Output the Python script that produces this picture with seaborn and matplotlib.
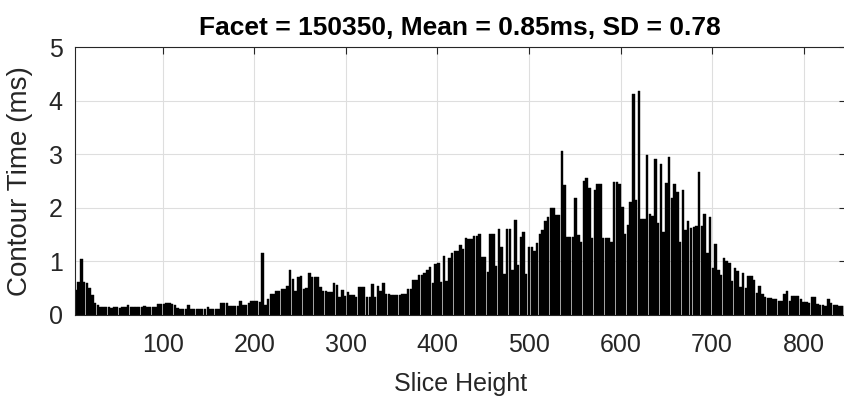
import numpy as np
import pandas as pd
import matplotlib
matplotlib.use("Agg")
import matplotlib.pyplot as plt
import seaborn as sns

# contour time per slice (ms), read every 3rd slice from 5 to 845
slice_height = np.arange(5, 846, 3)
contour_time = [
    0.47, 0.62, 1.04, 0.62, 0.59, 0.50, 0.38, 0.23, 0.19, 0.14,
    0.14, 0.14, 0.14, 0.13, 0.14, 0.14, 0.13, 0.14, 0.15, 0.18,
    0.15, 0.15, 0.15, 0.14, 0.14, 0.17, 0.14, 0.14, 0.14, 0.14,
    0.20, 0.20, 0.20, 0.22, 0.22, 0.20, 0.19, 0.13, 0.12, 0.12,
    0.12, 0.19, 0.12, 0.12, 0.12, 0.12, 0.12, 0.12, 0.15, 0.12,
    0.12, 0.12, 0.12, 0.22, 0.22, 0.22, 0.17, 0.17, 0.17, 0.17,
    0.27, 0.19, 0.19, 0.23, 0.27, 0.27, 0.27, 0.25, 1.16, 0.19,
    0.29, 0.39, 0.39, 0.45, 0.45, 0.49, 0.49, 0.54, 0.84, 0.68,
    0.44, 0.70, 0.73, 0.49, 0.51, 0.79, 0.71, 0.71, 0.70, 0.53,
    0.45, 0.45, 0.43, 0.43, 0.60, 0.56, 0.34, 0.47, 0.35, 0.43,
    0.37, 0.37, 0.34, 0.53, 0.53, 0.53, 0.34, 0.34, 0.58, 0.34,
    0.54, 0.45, 0.60, 0.40, 0.40, 0.37, 0.37, 0.38, 0.38, 0.40,
    0.40, 0.48, 0.48, 0.66, 0.65, 0.75, 0.75, 0.79, 0.84, 0.90,
    0.60, 0.95, 0.97, 0.62, 1.10, 0.64, 1.06, 1.16, 1.20, 1.20,
    1.30, 1.24, 1.43, 1.41, 1.41, 1.47, 1.47, 1.52, 1.08, 1.08,
    0.81, 1.51, 1.51, 0.91, 1.60, 1.27, 0.77, 1.60, 1.60, 0.84,
    1.77, 0.93, 1.46, 1.55, 0.76, 1.27, 1.27, 1.20, 1.35, 1.51,
    1.58, 1.76, 1.82, 2.00, 2.00, 1.86, 1.86, 3.06, 2.42, 1.46,
    1.46, 1.46, 2.19, 1.49, 1.37, 2.50, 2.56, 2.37, 1.43, 2.33,
    2.44, 2.44, 1.43, 1.43, 1.43, 1.37, 2.48, 2.48, 2.44, 2.02,
    1.52, 1.68, 2.11, 4.12, 2.14, 4.18, 1.80, 1.80, 2.98, 1.88,
    1.84, 2.92, 1.71, 2.82, 1.55, 2.47, 2.94, 2.19, 2.44, 2.30,
    1.37, 2.33, 1.58, 1.75, 1.63, 1.65, 1.66, 2.67, 1.66, 1.89,
    1.15, 1.82, 0.87, 1.33, 0.84, 0.75, 1.07, 1.00, 0.97, 0.63,
    0.87, 0.83, 0.53, 0.79, 0.51, 0.73, 0.73, 0.66, 0.41, 0.54,
    0.39, 0.33, 0.32, 0.32, 0.29, 0.29, 0.27, 0.27, 0.39, 0.44,
    0.27, 0.35, 0.35, 0.35, 0.30, 0.24, 0.24, 0.22, 0.33, 0.33,
    0.20, 0.19, 0.19, 0.16, 0.29, 0.22, 0.19, 0.19, 0.16, 0.16,
    0.16,
]
x_ticks = [100, 200, 300, 400, 500, 600, 700, 800]
y_ticks = [0, 1, 2, 3, 4, 5]
facet_id = 150350
mean_ms = 0.85
sd_ms = 0.78

df = pd.DataFrame({"slice": slice_height, "time": contour_time})

sns.set_style("white")
plt.rcParams["font.family"] = ["Liberation Sans", "DejaVu Sans"]
ink = "#262626"

fig = plt.figure(figsize=(8.45, 4.01), dpi=100)
ax = fig.add_axes([0.0888, 0.2145, 0.912, 0.668])

sns.barplot(data=df, x="slice", y="time", native_scale=True, errorbar=None,
            color="black", edgecolor="black", linewidth=0.3, width=0.9,
            saturation=1, ax=ax)

ax.set_xlim(4, 846)
ax.set_ylim(0, 5)
ax.set_xticks(x_ticks)
ax.set_yticks(y_ticks)
ax.grid(True, color="#dedede", linewidth=0.8)
ax.set_axisbelow(True)
ax.tick_params(direction="in", length=5, width=0.8, colors=ink,
               labelsize=18, top=True, right=True)
ax.tick_params(axis="x", pad=13)
ax.tick_params(axis="y", pad=9)
for sp in ax.spines.values():
    sp.set_color(ink)
    sp.set_linewidth(0.8)

ax.set_xlabel("Slice Height", fontsize=18, color=ink, labelpad=11)
ax.set_ylabel("Contour Time (ms)", fontsize=20, color=ink, labelpad=11)
ax.set_title(f"Facet = {facet_id}, Mean = {mean_ms}ms, SD = {sd_ms}",
             fontsize=19, fontweight="bold", color="black", pad=9)

fig.savefig("out.png", dpi=100)
